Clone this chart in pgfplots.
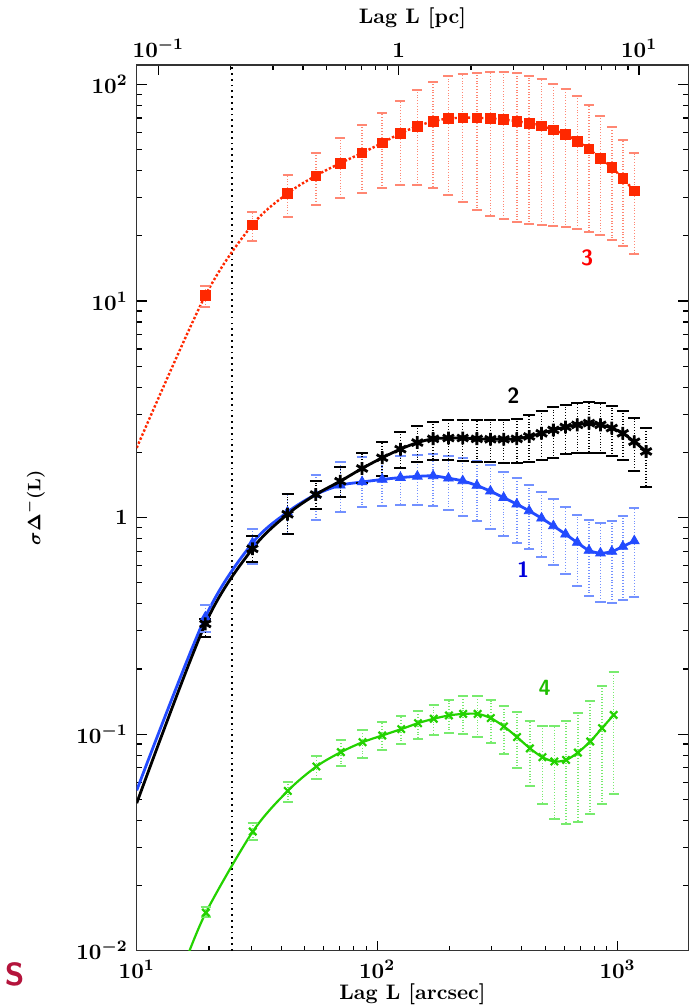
\documentclass[border=0pt]{standalone}
\usepackage{pgfplots}
\pgfplotsset{compat=1.18}
\usepackage{pgfplotstable}

\definecolor{rmark}{RGB}{255,40,0}
\definecolor{rerr}{RGB}{255,135,115}
\definecolor{bline}{RGB}{35,75,255}
\definecolor{berr}{RGB}{115,145,255}
\definecolor{gline}{RGB}{35,210,0}
\definecolor{gerr}{RGB}{120,235,110}
\definecolor{lab1}{RGB}{0,0,220}
\definecolor{lab3}{RGB}{255,0,0}
\definecolor{lab4}{RGB}{30,190,0}
\definecolor{sred}{RGB}{180,20,60}

% series 3 (red squares); first row = start of the dotted curve only
\pgfplotstableread{
L v hi lo
10 2.1 2.1 2.1
19.3 10.6 11.7 9.4
30.3 22.5 25.9 18.9
42.4 31.4 38.2 24.5
55.6 37.9 48.1 27.7
70.3 43.3 56.6 29.9
86.6 48.3 65.0 31.5
105 53.7 74.2 33.1
125 59.5 84.3 34.2
147 64.1 94.1 34.5
171 67.7 102.5 33.3
198 69.6 108.9 31.0
227 70.2 111.3 28.6
260 70.2 113.3 26.3
296 69.6 114.0 24.8
336 68.9 113.6 23.8
381 67.7 112.8 23.2
429 66.2 109.7 22.7
483 64.4 106.2 22.5
541 61.7 100.7 22.3
608 58.7 95.1 22.0
680 54.7 88.0 21.5
761 50.3 80.2 20.9
849 45.7 71.6 20.1
947 41.4 63.5 19.1
1052 36.8 55.7 17.9
1174 32.3 48.5 16.5
}\redtab

% series 2 (black stars)
\pgfplotstableread{
L v hi lo
10 0.048 0.048 0.048
19.3 0.323 0.341 0.282
30.3 0.718 0.822 0.623
42.4 1.036 1.282 0.843
55.6 1.278 1.479 1.093
70.3 1.473 1.716 1.246
86.6 1.686 1.979 1.437
105 1.889 2.24 1.56
125 2.07 2.475 1.698
147 2.22 2.648 1.804
171 2.31 2.754 1.85
198 2.33 2.81 1.85
227 2.33 2.83 1.83
260 2.31 2.83 1.815
296 2.30 2.83 1.80
336 2.30 2.83 1.795
381 2.31 2.86 1.795
429 2.37 2.98 1.815
483 2.45 3.09 1.85
541 2.54 3.23 1.89
608 2.62 3.31 1.96
680 2.68 3.39 1.98
761 2.73 3.40 1.99
849 2.68 3.39 1.98
947 2.59 3.27 1.93
1052 2.45 3.09 1.85
1174 2.24 2.88 1.64
1315 2.02 2.60 1.38
}\blacktab

% series 1 (blue triangles)
\pgfplotstableread{
L v hi lo
10 0.055 0.055 0.055
19.3 0.347 0.393 0.296
30.3 0.763 0.883 0.612
42.4 1.06 1.282 0.837
55.6 1.278 1.57 0.979
70.3 1.41 1.81 1.06
86.6 1.46 1.91 1.12
105 1.50 1.93 1.13
125 1.53 1.93 1.14
147 1.55 1.95 1.14
171 1.558 1.96 1.13
198 1.52 1.93 1.085
227 1.477 1.88 1.02
260 1.406 1.83 0.966
296 1.324 1.74 0.889
336 1.236 1.63 0.823
381 1.153 1.52 0.762
429 1.074 1.416 0.715
483 0.993 1.318 0.661
541 0.915 1.216 0.604
608 0.838 1.124 0.548
680 0.767 1.03 0.485
761 0.705 0.976 0.436
849 0.685 0.948 0.407
947 0.697 0.969 0.403
1052 0.735 1.02 0.417
1174 0.78 1.11 0.430
}\bluetab

% series 4 (green crosses)
\pgfplotstableread{
L v hi lo
15.5 0.0082 0.0082 0.0082
19.4 0.0150 0.0160 0.01426
30.4 0.0355 0.0388 0.0325
42.5 0.0547 0.0604 0.0485
55.9 0.0709 0.0797 0.0620
70.7 0.0826 0.0942 0.0709
87 0.0918 0.1047 0.078
105 0.0986 0.1133 0.0847
126 0.1055 0.1207 0.0902
148 0.1124 0.1283 0.0952
172 0.1178 0.136 0.0986
199 0.122 0.1432 0.101
228 0.124 0.1494 0.100
262 0.124 0.1494 0.0965
297 0.1186 0.144 0.0909
337 0.1085 0.1356 0.0811
382 0.0969 0.126 0.0697
432 0.086 0.1153 0.0577
487 0.0783 0.1096 0.0475
546 0.0748 0.1085 0.0406
611 0.076 0.1144 0.0385
684 0.0822 0.125 0.0392
770 0.0925 0.1426 0.0427
862 0.1066 0.166 0.0475
964 0.1227 0.1935 0.053
}\greentab

\pgfplotsset{
  errstyle/.style 2 args={
    error bars/.cd, y dir=both, y explicit,
    error bar style={densely dotted, line width=0.75pt, color=#1},
    error mark options={solid, line width=1.0pt, color=#1, mark size=#2, rotate=90},
    /pgfplots/.cd,
  },
}

\begin{document}
\begin{tikzpicture}
\path[use as bounding box] (-68.35pt,-27.65pt) rectangle (276.15pt,475.35pt);

\begin{axis}[
  at={(0pt,0pt)}, anchor=south west,
  scale only axis, width=275.8pt, height=442.85pt,
  xmode=log, ymode=log,
  xmin=10, xmax=1970, ymin=0.01, ymax=123,
  xtick={10,100,1000}, xticklabels={$10^{1}$,$10^{2}$,$10^{3}$},
  ytick={0.01,0.1,1,10,100},
  yticklabels={$10^{-2}$,$10^{-1}$,$1$,$10^{1}$,$10^{2}$},
  xtick pos=bottom, ytick pos=both,
  tick align=inside,
  major tick length=5pt, minor tick length=2.6pt,
  axis line style={line width=0.6pt, black!80},
  every tick/.style={line width=0.6pt, black},
  tick label style={font=\fontsize{11}{13}\selectfont\boldmath},
  xticklabel style={yshift=-1pt},
  yticklabel style={xshift=-1pt},
  xlabel={Lag L [arcsec]},
  xlabel style={at={(axis description cs:0.5,0)}, anchor=center, yshift=-22pt,
    font=\fontsize{10.5}{12}\selectfont\bfseries},
  ylabel={$\sigma\Delta^{-}(\mathrm{L})$},
  ylabel style={at={(axis description cs:-0.185,0.5)}, anchor=center,
    font=\fontsize{9}{11}\selectfont\boldmath},
]
% vertical dotted line at 25 arcsec
\addplot[black, dotted, line width=0.9pt] coordinates {(25,0.01) (25,123)};

% curves
\addplot[rmark, densely dotted, line width=1.2pt, smooth] table[x=L,y=v] {\redtab};
\addplot[bline, line width=1.4pt, smooth] table[x=L,y=v] {\bluetab};
\addplot[black, line width=1.4pt, smooth] table[x=L,y=v] {\blacktab};
\addplot[gline, line width=1.1pt, smooth] table[x=L,y=v] {\greentab};

% marks with error bars
\addplot[skip coords between index={0}{1}, only marks, mark=square*, mark size=2.4pt, color=rmark, mark options={solid},
  errstyle={rerr}{2.5pt}]
  table[x=L, y=v, y error plus expr=\thisrow{hi}-\thisrow{v},
        y error minus expr=\thisrow{v}-\thisrow{lo}] {\redtab};
\addplot[skip coords between index={0}{1}, only marks, mark=triangle*, mark size=2.8pt, color=bline, mark options={solid},
  errstyle={berr}{2.6pt}]
  table[x=L, y=v, y error plus expr=\thisrow{hi}-\thisrow{v},
        y error minus expr=\thisrow{v}-\thisrow{lo}] {\bluetab};
\addplot[skip coords between index={0}{1}, only marks, mark=asterisk, mark size=3.2pt, color=black, mark options={solid, line width=1.4pt},
  errstyle={black}{3pt}]
  table[x=L, y=v, y error plus expr=\thisrow{hi}-\thisrow{v},
        y error minus expr=\thisrow{v}-\thisrow{lo}] {\blacktab};
\addplot[skip coords between index={0}{1}, only marks, mark=x, mark size=2.6pt, color=gline, mark options={solid, line width=1.1pt},
  errstyle={gerr}{2.6pt}]
  table[x=L, y=v, y error plus expr=\thisrow{hi}-\thisrow{v},
        y error minus expr=\thisrow{v}-\thisrow{lo}] {\greentab};

% series labels
\node[text=lab3, font=\sffamily\bfseries\fontsize{11}{11}\selectfont] at (axis cs:748,15.8) {3};
\node[text=black, font=\sffamily\bfseries\fontsize{11}{11}\selectfont] at (axis cs:369,3.65) {2};
\node[text=lab1, font=\sffamily\bfseries\fontsize{11}{11}\selectfont] at (axis cs:405,0.574) {1};
\node[text=lab4, font=\sffamily\bfseries\fontsize{11}{11}\selectfont] at (axis cs:498,0.164) {4};
\end{axis}

% top axis in parsec
\begin{axis}[
  at={(0pt,0pt)}, anchor=south west,
  scale only axis, width=275.8pt, height=442.85pt,
  xmode=log, ymode=log,
  xmin=0.0813, xmax=16.02, ymin=0.01, ymax=123,
  axis x line*=top, axis y line=none,
  xtick={0.1,1,10}, xticklabels={$10^{-1}$,$1$,$10^{1}$},
  tick align=inside,
  major tick length=5pt, minor tick length=2.6pt,
  axis line style={line width=0.6pt, black!80},
  every tick/.style={line width=0.6pt, black},
  tick label style={font=\fontsize{11}{13}\selectfont\boldmath},
  xlabel={Lag L [pc]},
  xlabel style={at={(axis description cs:0.5,1)}, anchor=center, yshift=23.5pt,
    font=\fontsize{10.5}{12}\selectfont\bfseries},
]
\addplot[draw=none] coordinates {(1,1)};
\end{axis}

\node[text=sred, font=\sffamily\bfseries\fontsize{16}{16}\selectfont] at (-61pt,-12pt) {S};
\end{tikzpicture}
\end{document}
